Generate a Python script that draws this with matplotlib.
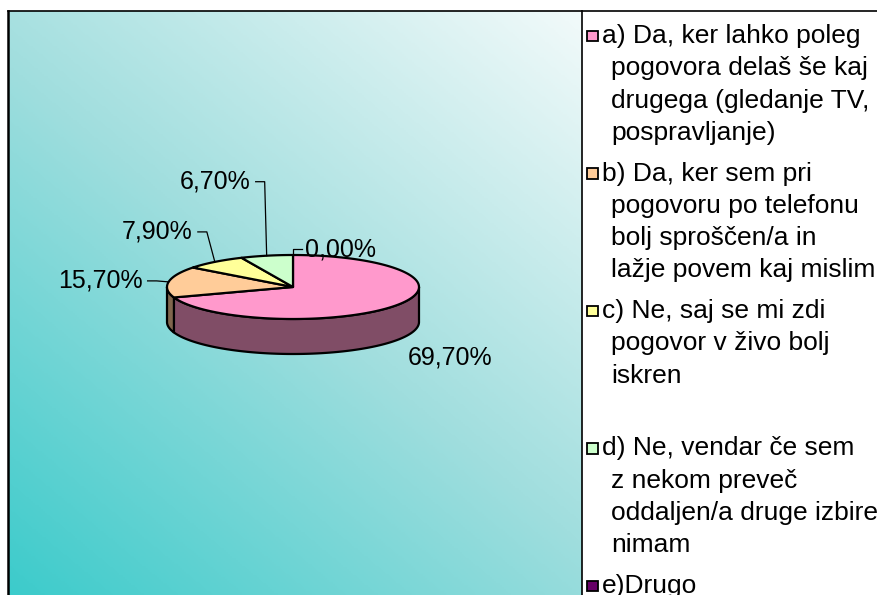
import numpy as np
import matplotlib
matplotlib.use('Agg')
import matplotlib.pyplot as plt
from matplotlib.colors import LinearSegmentedColormap, to_rgb
from matplotlib.patches import Polygon, Rectangle

plt.rcParams['font.family'] = ['Liberation Sans', 'DejaVu Sans']

# data
categories = [
    'a) Da, ker lahko poleg\npogovora delaš še kaj\ndrugega (gledanje TV,\npospravljanje)',
    'b) Da, ker sem pri\npogovoru po telefonu\nbolj sproščen/a in\nlažje povem kaj mislim',
    'c) Ne, saj se mi zdi\npogovor v živo bolj\niskren',
    'd) Ne, vendar če sem\nz nekom preveč\noddaljen/a druge izbire\nnimam',
    'e)Drugo',
]
values = [69.7, 15.7, 7.9, 6.7, 0.0]
colors = ['#FF99CC', '#FFCC99', '#FFFF99', '#CCFFCC', '#660066']

# layout (pixel coords, y down)
W, H = 877, 595
cx, cy, rx, ry, depth = 293, 287, 126, 32, 35
label_offsets = [(54, 52), (-26, -1), (-22, -30), (-16, -74), (12, -6)]
label_ha = ['center', 'right', 'right', 'right', 'left']
label_leader = [False, True, True, True, True]


def rim(theta):
    """theta in degrees, clockwise from 12 o'clock"""
    t = np.radians(theta)
    return cx + rx * np.sin(t), cy - ry * np.cos(t)


def arc(t0, t1):
    ts = np.linspace(t0, t1, max(int(abs(t1 - t0)) + 2, 2))
    return np.column_stack(rim(ts))


def darker(c, f=0.5):
    return tuple(v * f for v in to_rgb(c))


fig = plt.figure(figsize=(W / 100, H / 100), dpi=100)
ax = fig.add_axes([0, 0, 1, 1])
ax.set_xlim(0, W)
ax.set_ylim(H, 0)
ax.axis('off')

# gradient plot area
px0, px1, py0, py1 = 8, 582, 11, 595
gx = np.linspace(0, 1, 300)
gy = np.linspace(1, 0, 300)
GX, GY = np.meshgrid(gx, gy)
T = 0.45 * GX + 0.55 * GY
cmap = LinearSegmentedColormap.from_list('bg', [(0, '#3CCBCB'), (0.5, '#A0DEDE'), (1, '#F2FAFA')])
ax.imshow(T, cmap=cmap, extent=(px0, px1, py1, py0), aspect='auto', zorder=0, vmin=0, vmax=1)
ax.plot([px0, px0], [py1, py0], color='black', lw=1.8, zorder=1)
ax.plot([px0, W], [py0, py0], color='black', lw=1.2, zorder=1)
ax.plot([px1, px1], [py0, py1], color='black', lw=1.2, zorder=1)

# pie
bounds = np.concatenate([[0], np.cumsum(values)]) / sum(values) * 360

# side walls (front half: 90..270)
for i, c in enumerate(colors):
    t0, t1 = max(bounds[i], 90), min(bounds[i + 1], 270)
    if t1 <= t0:
        continue
    top = arc(t0, t1)
    bot = top[::-1] + [0, depth]
    ax.add_patch(Polygon(np.vstack([top, bot]), closed=True, facecolor=darker(c),
                         edgecolor='black', lw=1.6, zorder=2))

# top faces
for i, c in enumerate(colors):
    if values[i] == 0:
        continue
    pts = np.vstack([[cx, cy], arc(bounds[i], bounds[i + 1])])
    ax.add_patch(Polygon(pts, closed=True, facecolor=c, edgecolor='black',
                         lw=1.6, zorder=3, joinstyle='round'))

# labels
for i, v in enumerate(values):
    mid = (bounds[i] + bounds[i + 1]) / 2
    axp, ayp = rim(mid)
    tx, ty = axp + label_offsets[i][0], ayp + label_offsets[i][1]
    ax.text(tx, ty, f'{v:.2f}'.replace('.', ',') + '%', fontsize=18,
            ha=label_ha[i], va='center', zorder=5)
    if label_leader[i]:
        if label_ha[i] == 'right':
            xs = [tx + 5, tx + 14, axp]
        else:
            xs = [tx - 3, tx - 12, axp]
        ax.plot(xs, [ty, ty, ayp], color='black', lw=0.9, zorder=4)

# legend
entry_y0, entry_step, line_step = 36, 137.5, 32.3
for i, (lab, c) in enumerate(zip(categories, colors)):
    y = entry_y0 + i * entry_step
    ax.add_patch(Rectangle((587, y - 5.5), 10.5, 10.5, facecolor=c, edgecolor='black',
                           lw=1.3, zorder=3))
    for j, line in enumerate(lab.split('\n')):
        ax.text(602 if j == 0 else 611, y + j * line_step, line, fontsize=19,
                ha='left', va='center', zorder=3)

fig.savefig('out.png', dpi=100)
